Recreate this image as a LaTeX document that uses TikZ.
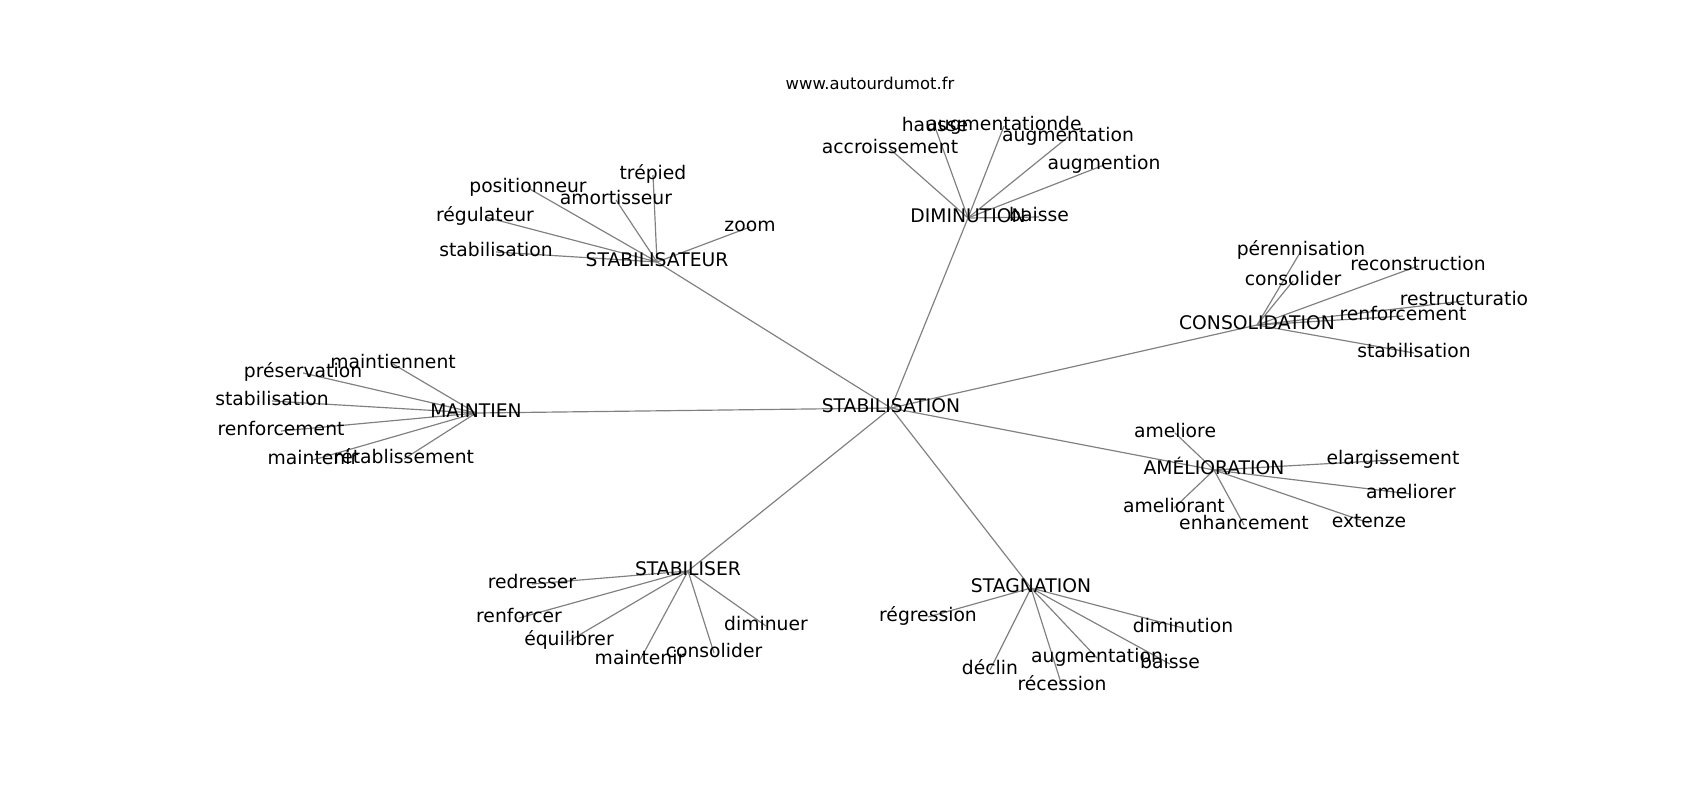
\documentclass[tikz,border=0pt]{standalone}
\usepackage{fontspec}
\setmainfont{DejaVu Sans}
\usetikzlibrary{backgrounds}
\begin{document}
\begin{tikzpicture}[x=0.72pt,y=-0.72pt,
  lbl/.style={inner sep=0pt,text height=10.2pt,text depth=3.1pt,font=\fontsize{13.5}{16}\selectfont,text=black},
  ttl/.style={inner sep=0pt,text height=8.9pt,text depth=2.7pt,font=\fontsize{11.8}{14}\selectfont,text=black},
  edge/.style={draw=gray,line width=0.85pt}]
\useasboundingbox (0,0) rectangle (1700,800);
\begin{scope}[shift={(0,3)}]
\node[ttl] (title) at (870,82) {www.autourdumot.fr};
% centre
\node[lbl] (c) at (891,405) {STABILISATION};
% hubs
\node[lbl] (h1) at (657,259) {STABILISATEUR};
\node[lbl] (h2) at (968,215) {DIMINUTION};
\node[lbl] (h3) at (1257,322) {CONSOLIDATION};
\node[lbl] (h4) at (476,410) {MAINTIEN};
\node[lbl] (h5) at (1214,467) {AMÉLIORATION};
\node[lbl] (h6) at (1031,585) {STAGNATION};
\node[lbl] (h7) at (688,568) {STABILISER};
% STABILISATEUR leaves
\node[lbl] (a1) at (528,185) {positionneur};
\node[lbl] (a2) at (653,172) {trépied};
\node[lbl] (a3) at (616,197) {amortisseur};
\node[lbl] (a4) at (485,214) {régulateur};
\node[lbl] (a5) at (496,249) {stabilisation};
\node[lbl] (a6) at (750,224) {zoom};
% DIMINUTION leaves
\node[lbl] (b1) at (890,146) {accroissement};
\node[lbl] (b2) at (935,124) {hausse};
\node[lbl] (b3) at (1004,123) {augmentationde};
\node[lbl] (b4) at (1068,134) {augmentation};
\node[lbl] (b5) at (1104,162) {augmention};
\node[lbl] (b6) at (1039,214) {baisse};
% CONSOLIDATION leaves
\node[lbl] (d1) at (1301,248) {pérennisation};
\node[lbl] (d2) at (1293,278) {consolider};
\node[lbl] (d3) at (1418,263) {reconstruction};
\node[lbl] (d4) at (1464,298) {restructuratio};
\node[lbl] (d5) at (1403,313) {renforcement};
\node[lbl] (d6) at (1414,350) {stabilisation};
% MAINTIEN leaves
\node[lbl] (e1) at (393,361) {maintiennent};
\node[lbl] (e2) at (303,370) {préservation};
\node[lbl] (e3) at (272,398) {stabilisation};
\node[lbl] (e4) at (281,428) {renforcement};
\node[lbl] (e5) at (313,457) {maintenir};
\node[lbl] (e6) at (404,456) {rétablissement};
% AMELIORATION leaves
\node[lbl] (f1) at (1175,430) {ameliore};
\node[lbl] (f2) at (1393,457) {elargissement};
\node[lbl] (f3) at (1411,491) {ameliorer};
\node[lbl] (f4) at (1369,520) {extenze};
\node[lbl] (f5) at (1244,522) {enhancement};
\node[lbl] (f6) at (1174,505) {ameliorant};
% STAGNATION leaves
\node[lbl] (g1) at (928,614) {régression};
\node[lbl] (g2) at (990,667) {déclin};
\node[lbl] (g3) at (1062,683) {récession};
\node[lbl] (g4) at (1097,655) {augmentation};
\node[lbl] (g5) at (1170,661) {baisse};
\node[lbl] (g6) at (1183,625) {diminution};
% STABILISER leaves
\node[lbl] (k1) at (532,581) {redresser};
\node[lbl] (k2) at (519,615) {renforcer};
\node[lbl] (k3) at (569,638) {équilibrer};
\node[lbl] (k4) at (640,657) {maintenir};
\node[lbl] (k5) at (714,650) {consolider};
\node[lbl] (k6) at (766,623) {diminuer};
\end{scope}
\begin{pgfonlayer}{background}
\foreach \h in {h1,h2,h3,h4,h5,h6,h7} \draw[edge] (c.center) -- (\h.center);
\foreach \l in {a1,a2,a3,a4,a5,a6} \draw[edge] (h1.center) -- (\l.center);
\foreach \l in {b1,b2,b3,b4,b5,b6} \draw[edge] (h2.center) -- (\l.center);
\foreach \l in {d1,d2,d3,d4,d5,d6} \draw[edge] (h3.center) -- (\l.center);
\foreach \l in {e1,e2,e3,e4,e5,e6} \draw[edge] (h4.center) -- (\l.center);
\foreach \l in {f1,f2,f3,f4,f5,f6} \draw[edge] (h5.center) -- (\l.center);
\foreach \l in {g1,g2,g3,g4,g5,g6} \draw[edge] (h6.center) -- (\l.center);
\foreach \l in {k1,k2,k3,k4,k5,k6} \draw[edge] (h7.center) -- (\l.center);
\end{pgfonlayer}
\end{tikzpicture}
\end{document}
